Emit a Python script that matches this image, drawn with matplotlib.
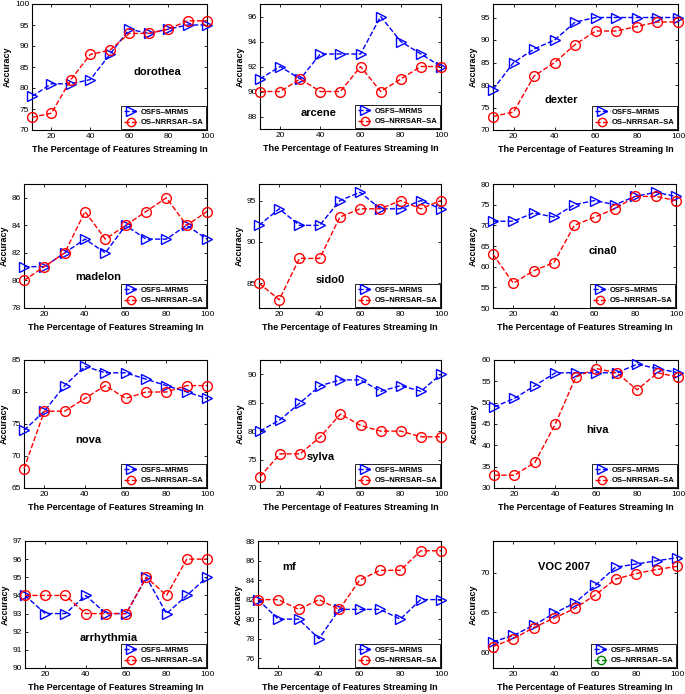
import matplotlib
matplotlib.use("Agg")
import matplotlib.pyplot as plt
from matplotlib.lines import Line2D

plt.rcParams['font.family'] = ['Liberation Sans', 'DejaVu Sans']

x = [10, 20, 30, 40, 50, 60, 70, 80, 90, 100]
xticks = [20, 40, 60, 80, 100]

names = ["dorothea", "arcene", "dexter", "madelon", "sido0", "cina0",
         "nova", "sylva", "hiva", "arrhythmia", "mf", "VOC 2007"]

osfs = {
    "dorothea":   [78, 81, 81, 82, 88, 94, 93, 94, 95, 95],
    "arcene":     [91, 92, 91, 93, 93, 93, 96, 94, 93, 92],
    "dexter":     [79, 85, 88, 90, 94, 95, 95, 95, 95, 95],
    "madelon":    [81, 81, 82, 83, 82, 84, 83, 83, 84, 83],
    "sido0":      [92, 94, 92, 92, 95, 96, 94, 94, 95, 94],
    "cina0":      [71, 71, 73, 72, 75, 76, 75, 77, 78, 77],
    "nova":       [74, 77, 81, 84, 83, 83, 82, 81, 80, 79],
    "sylva":      [80, 82, 85, 88, 89, 89, 87, 88, 87, 90],
    "hiva":       [49, 51, 54, 57, 57, 57, 57, 59, 58, 57],
    "arrhythmia": [94, 93, 93, 94, 93, 93, 95, 93, 94, 95],
    "mf":         [82, 80, 80, 78, 81, 81, 81, 80, 82, 82],
    "VOC 2007":   [61.3, 62.1, 63.4, 64.9, 66.2, 68.4, 70.7, 71.1, 71.5, 71.9],
}
osnr = {
    "dorothea":   [73, 74, 82, 88, 89, 93, 93, 94, 96, 96],
    "arcene":     [90, 90, 91, 90, 90, 92, 90, 91, 92, 92],
    "dexter":     [73, 74, 82, 85, 89, 92, 92, 93, 94, 94],
    "madelon":    [80, 81, 82, 85, 83, 84, 85, 86, 84, 85],
    "sido0":      [85, 83, 88, 88, 93, 94, 94, 95, 94, 95],
    "cina0":      [63, 56, 59, 61, 70, 72, 74, 77, 77, 76],
    "nova":       [68, 77, 77, 79, 81, 79, 80, 80, 81, 81],
    "sylva":      [72, 76, 76, 79, 83, 81, 80, 80, 79, 79],
    "hiva":       [33, 33, 36, 45, 56, 58, 57, 53, 57, 56],
    "arrhythmia": [94, 94, 94, 93, 93, 93, 95, 94, 96, 96],
    "mf":         [82, 82, 81, 82, 81, 84, 85, 85, 87, 87],
    "VOC 2007":   [60.7, 61.7, 63.1, 64.3, 65.5, 67.2, 69.2, 69.9, 70.4, 70.8],
}
ylims = {
    "dorothea": (70, 100), "arcene": (87, 97), "dexter": (70, 98),
    "madelon": (78, 87), "sido0": (82, 97), "cina0": (50, 80),
    "nova": (65, 85), "sylva": (70, 92.5), "hiva": (30, 60),
    "arrhythmia": (90, 97), "mf": (75, 88), "VOC 2007": (58, 74),
}
yticks = {
    "dorothea": [70, 75, 80, 85, 90, 95, 100], "arcene": [88, 90, 92, 94, 96],
    "dexter": [70, 75, 80, 85, 90, 95], "madelon": [78, 80, 82, 84, 86],
    "sido0": [85, 90, 95], "cina0": [50, 55, 60, 65, 70, 75, 80],
    "nova": [65, 70, 75, 80, 85], "sylva": [70, 75, 80, 85, 90],
    "hiva": [30, 35, 40, 45, 50, 55, 60], "arrhythmia": [90, 91, 92, 93, 94, 95, 96, 97],
    "mf": [76, 78, 80, 82, 84, 86, 88], "VOC 2007": [60, 65, 70],
}
label_pos = {
    "dorothea": (62, 83), "arcene": (30, 88), "dexter": (35, 76),
    "madelon": (35, 80), "sido0": (38, 85), "cina0": (57, 63),
    "nova": (35, 72), "sylva": (33, 75), "hiva": (55, 43),
    "arrhythmia": (37, 91.5), "mf": (22, 85), "VOC 2007": (32, 70.3),
}
legend_labels = ["OSFS\u2013MRMS", "OS\u2013NRRSAR\u2013SA"]

W, H = 685, 694
boxes = [
    (32, 207, 4, 130), (260, 441, 4, 129), (493, 678, 4, 130),
    (24, 207, 184, 308), (259, 441, 184, 308), (493, 676, 184, 308),
    (24, 207, 360, 488), (260, 441, 360, 488), (494, 678, 360, 488),
    (25, 207, 541, 668), (258, 441, 541, 668), (493, 677, 541, 668),
]

fig = plt.figure(figsize=(W / 100, H / 100), dpi=100)

for name, (l, r, t, b) in zip(names, boxes):
    ax = fig.add_axes([l / W, 1 - b / H, (r - l) / W, (b - t) / H])
    ax.plot(x, osfs[name], linestyle='--', color='blue', lw=1,
            marker='>', markersize=7.5, markerfacecolor='none',
            markeredgecolor='blue', markeredgewidth=1, clip_on=False, zorder=3)
    ax.plot(x, osnr[name], linestyle='--', color='red', lw=1,
            marker='o', markersize=7, markerfacecolor='none',
            markeredgecolor='red', markeredgewidth=1, clip_on=False, zorder=3)
    ax.set_xlim(10, 100)
    ax.set_ylim(*ylims[name])
    ax.set_xticks(xticks)
    ax.set_yticks(yticks[name])
    ax.tick_params(direction='in', length=2, width=0.6, labelsize=6, pad=2,
                   top=True, right=True)
    for s in ax.spines.values():
        s.set_linewidth(0.8)
    ax.set_xlabel("The Percentage of Features Streaming In", fontsize=6.5,
                  fontweight='bold', labelpad=4)
    ax.set_ylabel("Accuracy", fontsize=6.5, fontweight='bold', labelpad=2)
    ax.text(*label_pos[name], name, fontsize=8, fontweight='bold')
    c2 = 'green' if name == "VOC 2007" else 'red'
    handles = [
        Line2D([], [], linestyle='--', color='blue', lw=1, marker='>',
               markersize=6.5, markerfacecolor='none', markeredgecolor='blue'),
        Line2D([], [], linestyle='--', color=c2, lw=1, marker='o',
               markersize=6, markerfacecolor='none', markeredgecolor=c2),
    ]
    leg = ax.legend(handles, legend_labels, loc='lower right',
                    prop={'weight': 'bold', 'size': 5.5},
                    handlelength=2.0, handletextpad=0.2, borderpad=0.35,
                    labelspacing=0.35, borderaxespad=0.15, fancybox=False,
                    framealpha=1, edgecolor='black')
    leg.get_frame().set_linewidth(0.6)

fig.savefig("out.png", dpi=100)
